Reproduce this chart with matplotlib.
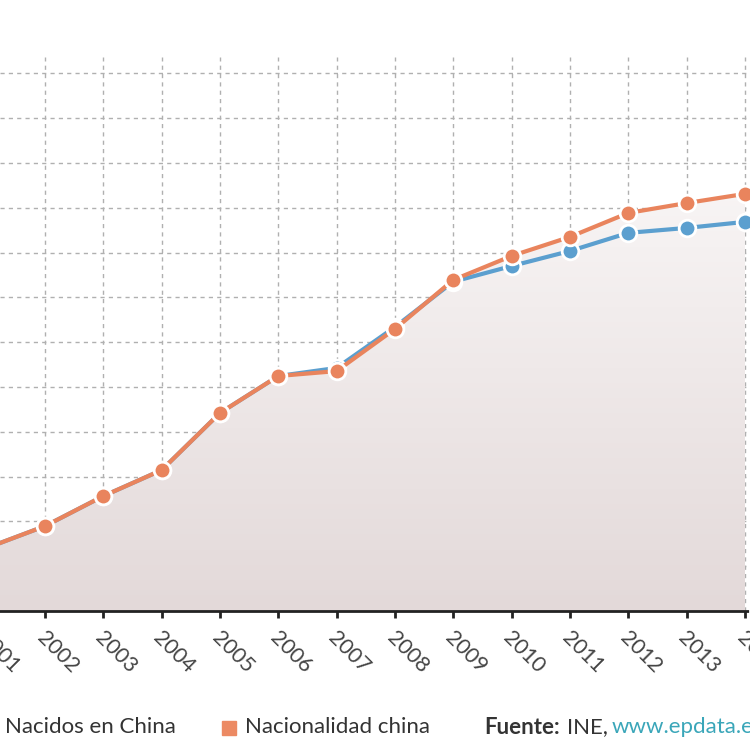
import numpy as np
import matplotlib.pyplot as plt
import matplotlib.transforms as mtransforms
from matplotlib.colors import LinearSegmentedColormap

# datos
anios = [2001, 2002, 2003, 2004, 2005, 2006, 2007, 2008, 2009, 2010, 2011, 2012, 2013, 2014]
nacidos_china = [28100, 37900, 51300, 62900, 88400, 104900, 108500, 126800, 147000,
                 154000, 160700, 168800, 171000, 173700]
nacionalidad_china = [28100, 37900, 51300, 62900, 88400, 104900, 107100, 125900, 147800,
                      158500, 167000, 177700, 182100, 186200]

azul = '#5b9fcf'
naranja = '#e9845d'
gris_texto = '#333333'

plt.rcParams['font.family'] = ['Lato', 'DejaVu Sans']

fig = plt.figure(figsize=(7.5, 7.5), dpi=100)
ax = fig.add_axes([0, (750 - 611) / 750, 1, (611 - 57) / 750])

# relleno con degradado bajo la linea superior
techo = np.maximum(nacidos_china, nacionalidad_china)
poly = ax.fill_between(anios, 0, techo, color='none', lw=0, zorder=1)
cmap = LinearSegmentedColormap.from_list('g', ['#e3d9d9', '#f8f5f5'])
grad = np.linspace(0, 1, 256).reshape(-1, 1)
im = ax.imshow(grad, cmap=cmap, aspect='auto', origin='lower',
               extent=[2000, 2015, 0, 190000], zorder=1)
im.set_clip_path(poly.get_paths()[0], transform=ax.transData)

# rejilla
ax.set_yticks(np.arange(20000, 240001, 20000))
ax.set_xticks(anios)
ax.grid(True, color='#b0b0b0', linestyle=(0, (3, 3)), lw=1)
ax.set_axisbelow(True)

ax.plot(anios, nacidos_china, color=azul, lw=3, marker='o', ms=12,
        markeredgecolor='white', markeredgewidth=2, zorder=3)
ax.plot(anios, nacionalidad_china, color=naranja, lw=3, marker='o', ms=12,
        markeredgecolor='white', markeredgewidth=2, zorder=4)

# limites al final (set_xticks los amplia)
ax.set_xlim(2001.229, 2014.086)
ax.set_ylim(0, 247300)

for s in ['top', 'right', 'left']:
    ax.spines[s].set_visible(False)
ax.spines['bottom'].set_color('#222222')
ax.spines['bottom'].set_linestyle((0, (2, 1)))
ax.spines['bottom'].set_linewidth(2)

ax.tick_params(axis='y', left=False, labelleft=False)
ax.tick_params(axis='x', direction='out', length=5, width=2, color='#222222',
               labelbottom=False)

# etiquetas del eje x (a mano, para que se vea 2001 recortado)
trans = mtransforms.offset_copy(ax.get_xaxis_transform(), fig=fig, x=-5, y=-24, units='dots')
for a in anios:
    ax.text(a, 0, str(a), transform=trans, rotation=-45, ha='left', va='center',
            rotation_mode='anchor', fontsize=15.5, color='#444444', clip_on=False)

# leyenda y fuente
fs = 16
fig.patches.append(plt.Rectangle((-20 / 750, 15 / 750), 14 / 750, 14 / 750,
                                 transform=fig.transFigure, color=azul))
fig.text(5 / 750, 23 / 750, 'Nacidos en China', fontsize=fs, color=gris_texto, va='center')
fig.patches.append(plt.Rectangle((222 / 750, 15 / 750), 14 / 750, 14 / 750,
                                 transform=fig.transFigure, color='#ec8a63'))
fig.text(245 / 750, 23 / 750, 'Nacionalidad china', fontsize=fs, color=gris_texto, va='center')
fig.text(484 / 750, 23 / 750, 'Fuente:', fontsize=fs, color=gris_texto, va='center',
         fontweight='bold')
fig.text(567 / 750, 23 / 750, 'INE,', fontsize=fs, color=gris_texto, va='center')
fig.text(612 / 750, 23 / 750, 'www.epdata.es', fontsize=fs, color='#3aa6b9', va='center')

fig.savefig('out.png', dpi=100)
